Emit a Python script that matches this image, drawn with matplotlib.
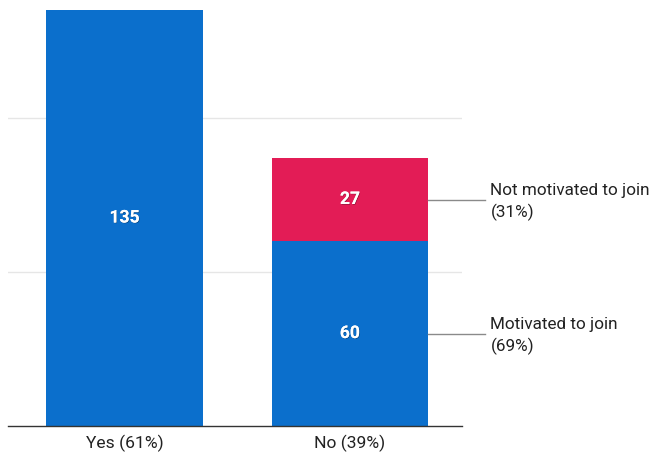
import matplotlib.pyplot as plt
import matplotlib.patheffects as pe

plt.rcParams['font.family'] = ['Roboto', 'DejaVu Sans']

categories = ['Yes (61%)', 'No (39%)']
yes_total = [135, 0]
no_motivated = [0, 60]
no_not_motivated = [0, 27]
segment_labels = ['Motivated to join\n(69%)', 'Not motivated to join\n(31%)']

blue = '#0B6FCC'
red = '#E31C56'

fig = plt.figure(figsize=(6.53, 4.55), dpi=100)
ax = fig.add_axes([8 / 653, 1 - 426 / 455, 454 / 653, 416 / 455])

x = [0, 1]
w = 0.696
ax.bar(x[0], yes_total[0], width=w, color=blue, zorder=3)
ax.bar(x[1], no_motivated[1], width=w, color=blue, zorder=3)
ax.bar(x[1], no_not_motivated[1], width=w, bottom=no_motivated[1], color=red, zorder=3)

shadow = [pe.withSimplePatchShadow(offset=(0.5, -0.5), shadow_rgbFace='black', alpha=0.35), pe.Normal()]
def label(xp, y, v):
    ax.text(xp, y, str(v), ha='center', va='center', color='white', fontsize=12.6,
            fontweight='bold', zorder=5, path_effects=shadow)

label(x[0], yes_total[0] / 2, yes_total[0])
label(x[1], no_motivated[1] / 2, no_motivated[1])
label(x[1], no_motivated[1] + no_not_motivated[1] / 2, no_not_motivated[1])

# leader lines and segment names
mids = [no_motivated[1] / 2, no_motivated[1] + no_not_motivated[1] / 2]
for m, txt in zip(mids, segment_labels):
    ax.plot([x[1] + w / 2, x[1] + w / 2 + 0.25], [m, m], color='#8a8a8a', lw=1,
            clip_on=False, zorder=4)
    ax.text(x[1] + w / 2 + 0.275, m - 0.8, txt, ha='left', va='center', fontsize=12.3,
            color='#222222', linespacing=1.4)

ax.set_xlim(-0.517, 1.497)
ax.set_ylim(0, 135)
ax.set_yticks([50, 100])
ax.yaxis.grid(True, color='#e6e6e6', lw=1, zorder=0)
ax.tick_params(axis='y', left=False, labelleft=False)
ax.set_xticks(x)
ax.set_xticklabels(categories, fontsize=12.6, color='#222222')
ax.tick_params(axis='x', length=0, pad=6)
for s in ['top', 'right', 'left']:
    ax.spines[s].set_visible(False)
ax.spines['bottom'].set_color('#333333')
ax.spines['bottom'].set_linewidth(1)
ax.spines['bottom'].set_zorder(6)

fig.savefig('out.png', dpi=100)
